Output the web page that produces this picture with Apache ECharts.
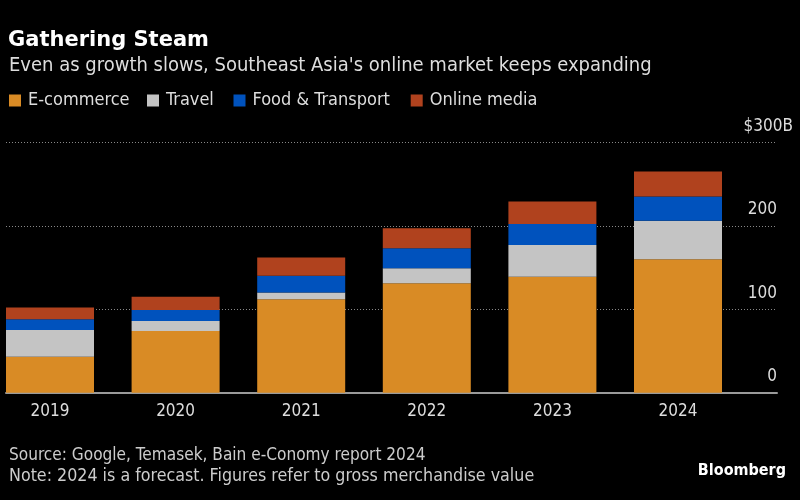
<!DOCTYPE html>
<html><head><meta charset="utf-8">
<script src="https://cdn.jsdelivr.net/npm/echarts@6/dist/echarts.min.js"></script>
<style>html,body{margin:0;padding:0;background:#000}#c{width:800px;height:500px}</style>
</head><body><div id="c"></div>
<script>
const years = ['2019','2020','2021','2022','2023','2024'];
const ecommerce = [43, 74, 112, 131, 139, 160];
const travel = [32, 12, 8, 18, 38, 46];
const foodTransport = [13, 13, 20, 24, 25, 29];
const onlineMedia = [14, 16, 22, 24, 27, 30];
const seriesNames = ['E-commerce','Travel','Food & Transport','Online media'];
const yTicks = [0, 100, 200, 300];

const FONT = "'DejaVu Sans Condensed', 'DejaVu Sans', sans-serif";
const TFONT = "'DejaVu Sans', sans-serif";
const colors = ['#d98b25', '#c4c4c4', '#0052bd', '#b0421e'];
const legendLeft = [9, 147, 233.5, 410.7];

const chart = echarts.init(document.getElementById('c'), null, {renderer:'canvas'});
function seg(i, data){
  return {name:seriesNames[i], type:'bar', stack:'t', data, xAxisIndex:0, yAxisIndex:0,
    barWidth: 88, itemStyle:{color:colors[i]}, emphasis:{disabled:true}};
}
chart.setOption({
  backgroundColor:'#000',
  animation:false,
  textStyle:{fontFamily:FONT},
  title:[
    {text:'Gathering Steam', left:3, top:25, textStyle:{color:'#fff', fontSize:21, fontWeight:'bold', fontFamily:TFONT}},
    {text:"Even as growth slows, Southeast Asia's online market keeps expanding", left:4, top:50.5, textStyle:{color:'#ddd', fontSize:20, fontWeight:'normal', fontFamily:FONT}},
    {text:'Source: Google, Temasek, Bain e-Conomy report 2024', left:4, top:442.5, textStyle:{color:'#ccc', fontSize:17.1, fontWeight:'normal', fontFamily:FONT}},
    {text:'Note: 2024 is a forecast. Figures refer to gross merchandise value', left:4, top:462, textStyle:{color:'#ccc', fontSize:17.7, fontWeight:'normal', fontFamily:FONT}},
    {text:'Bloomberg', right:9, top:458, textStyle:{color:'#fff', fontSize:16, fontWeight:'bold', fontFamily:FONT}}
  ],
  legend: seriesNames.map((n, i) => ({
    left: legendLeft[i] - 5, top: 86.5, itemWidth:12, itemHeight:12, icon:'rect',
    textStyle:{color:'#ddd', fontSize:18, fontFamily:FONT, padding:[0,0,0,2]},
    data:[n], selectedMode:false
  })),
  grid:[
    {left:-12.8, right:59.2, top:142.3, bottom:107.3, outerBoundsMode:'none'},
    {left:6, right:23, top:142.3, bottom:107.3, outerBoundsMode:'none'}
  ],
  xAxis:[
    {type:'category', gridIndex:0, data:years, axisLine:{show:false}, axisTick:{show:false},
     axisLabel:{color:'#ddd', fontSize:17, margin:10, fontFamily:FONT}},
    {type:'value', gridIndex:1, min:0, max:1, axisLine:{show:true, onZero:false, lineStyle:{color:'#9a9a9a', width:2}},
     axisTick:{show:false}, axisLabel:{show:false}, splitLine:{show:false}}
  ],
  yAxis:[
    {type:'value', gridIndex:0, min:0, max:300, interval:100, show:false, splitLine:{show:false}},
    {type:'value', gridIndex:1, min:0, max:300, interval:100, position:'right',
     axisLine:{show:false}, axisTick:{show:false},
     splitLine:{show:true, lineStyle:{color:'#888', type:[1,2], width:1}},
     axisLabel:{inside:true, margin:-16, color:'#ddd', fontSize:17, fontFamily:FONT,
       verticalAlign:'bottom', lineHeight:18,
       formatter:v => v===300 ? '$300B' : '{p|'+v+'}',
       rich:{p:{padding:[0,16,0,0], fontSize:17, color:'#ddd', fontFamily:FONT}},
       padding:[0,0,7,0]}}
  ],
  series:[
    seg(0, ecommerce),
    seg(1, travel),
    seg(2, foodTransport),
    seg(3, onlineMedia)
  ]
});
</script></body></html>
